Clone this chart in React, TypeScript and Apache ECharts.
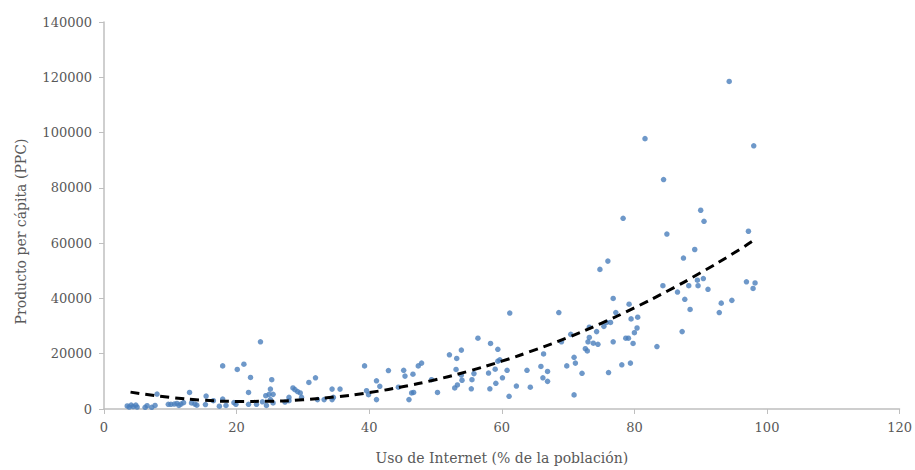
import React, { useEffect, useRef } from "react";
import * as echarts from "echarts";

// Internet use (% of population) per country
const internetUse: number[] = [
  3.5, 3.8, 4.1, 4.4, 4.8, 5.0, 6.2, 6.5, 7.2, 7.7, 8.0, 9.7, 10.1, 10.6, 11.0, 11.3, 11.6, 12.0, 12.9, 13.2,
  13.7, 14.0, 15.3, 15.4, 16.5, 17.4, 17.9, 17.9, 18.4, 19.6, 19.9, 20.1, 21.1, 21.8, 22.1, 21.8, 23.0, 23.6, 23.9, 24.4,
  24.5, 24.9, 25.1, 25.3, 25.1, 25.5, 25.5, 27.3, 27.9, 27.9, 28.5, 28.8, 29.2, 29.6, 29.8, 30.9, 31.9, 32.2, 33.2, 34.4,
  34.4, 34.6, 35.6, 39.3, 39.6, 39.9, 41.1, 41.1, 41.6, 42.9, 44.4, 45.2, 45.4, 46.0, 46.4, 46.7, 46.6, 47.4, 47.9, 49.4,
  50.3, 52.1, 53.1, 53.2, 52.9, 53.3, 53.9, 54.0, 53.9, 55.4, 55.5, 55.8, 56.4, 58.0, 58.2, 58.3, 59.0, 59.1, 59.4, 59.4,
  59.7, 60.1, 60.8, 61.1, 61.2, 62.2, 63.8, 64.3, 65.9, 66.3, 66.2, 66.9, 66.9, 68.6, 69.0, 69.8, 70.4, 70.9, 71.1, 70.9,
  72.1, 72.6, 72.9, 73.0, 73.2, 73.2, 73.8, 74.3, 74.5, 74.8, 75.4, 75.8, 76.4, 76.1, 76.0, 76.8, 76.8, 77.2, 78.1, 78.3,
  78.7, 79.1, 79.2, 79.5, 79.4, 79.8, 80.0, 80.4, 80.5, 81.6, 83.4, 84.3, 84.4, 84.9, 86.5, 87.2, 87.4, 87.6, 88.2, 88.4,
  89.1, 89.5, 89.6, 90.0, 90.4, 90.5, 91.1, 92.8, 93.1, 94.3, 94.7, 96.9, 97.2, 97.9, 98.0, 98.2,
];

// GDP per capita (PPP)
const gdpPerCapita: number[] = [
  1100, 700, 1400, 900, 1400, 700, 600, 1200, 600, 1300, 5400, 1700, 1700, 1800, 2000, 1300, 1800, 2300, 6000, 2200,
  1800, 1400, 1600, 4700, 3000, 1000, 15600, 3600, 1300, 2300, 1700, 14300, 16200, 6000, 11400, 1700, 1700, 24300, 2600, 4800,
  1300, 5300, 7200, 10600, 3400, 5300, 2200, 2500, 4200, 3000, 7600, 7000, 6300, 5800, 4200, 9600, 11300, 3400, 3400, 7200,
  3400, 4200, 7200, 15600, 6600, 5200, 10200, 3400, 8200, 13900, 7900, 14000, 11900, 3400, 5800, 6000, 12600, 15600, 16600, 10600,
  6000, 19600, 14300, 18300, 7600, 8700, 21300, 10400, 12300, 7300, 10600, 12800, 25600, 13000, 7300, 23700, 14400, 9300, 21600, 17300,
  17800, 11300, 14000, 4600, 34700, 8300, 14000, 7900, 15400, 19900, 11300, 13600, 10000, 34900, 24300, 15600, 27000, 18700, 16600, 5100,
  12900, 21800, 21000, 24300, 25900, 29600, 23800, 28000, 23400, 50500, 29900, 31300, 31300, 13200, 53500, 40000, 24300, 34900, 16000, 69000,
  25600, 25600, 37900, 32600, 16600, 23700, 27600, 29300, 33200, 97800, 22600, 44600, 83000, 63300, 42300, 28000, 54600, 39700, 44600, 36000,
  57700, 46600, 44600, 71900, 47200, 67900, 43300, 34900, 38300, 118500, 39300, 46000, 64300, 43600, 95200, 45600,
];

// Polynomial trend line
const trendX: number[] = [4, 10, 15, 20, 25, 30, 35, 40, 45, 50, 55, 60, 65, 70, 75, 80, 85, 90, 95, 98];
const trendY: number[] = [6100, 4200, 3200, 2750, 2800, 3350, 4400, 5950, 8050, 10600, 13700, 17300, 21400, 25900, 31000, 36600, 42700, 49300, 56400, 61000];

const xTicks = { min: 0, max: 120, interval: 20 };
const yTicks = { min: 0, max: 140000, interval: 20000 };

export default function App() {
  const ref = useRef<HTMLDivElement>(null);
  useEffect(() => {
    if (!ref.current) return;
    const chart = echarts.init(ref.current, null, { renderer: "svg" });
    const font = "DejaVu Serif";
    const labelColor = "#595959";
    const axisColor = "#BFBFBF";
    chart.setOption({
      animation: false,
      backgroundColor: "#ffffff",
      grid: { left: 104, right: 15, top: 22, bottom: 60 },
      xAxis: {
        type: "value",
        min: xTicks.min,
        max: xTicks.max,
        interval: xTicks.interval,
        name: "Uso de Internet (% de la población)",
        nameLocation: "middle",
        nameGap: 42,
        nameTextStyle: { fontFamily: font, fontSize: 14, color: labelColor },
        axisLine: { show: true, lineStyle: { color: axisColor, width: 1.5 } },
        axisTick: { show: true, length: 5, lineStyle: { color: axisColor } },
        splitLine: { show: false },
        axisLabel: { fontFamily: font, fontSize: 13, color: labelColor, margin: 12 },
      },
      yAxis: {
        type: "value",
        min: yTicks.min,
        max: yTicks.max,
        interval: yTicks.interval,
        name: "Producto per cápita (PPC)",
        nameLocation: "middle",
        nameGap: 76,
        nameTextStyle: { fontFamily: font, fontSize: 14, color: labelColor, padding: [0, 32, 0, 0] },
        axisLine: { show: true, lineStyle: { color: axisColor, width: 1.5 } },
        axisTick: { show: true, length: 5, lineStyle: { color: axisColor } },
        splitLine: { show: false },
        axisLabel: {
          fontFamily: font,
          fontSize: 13,
          color: labelColor,
          margin: 12,
          formatter: (v: number) => String(v),
        },
      },
      series: [
        {
          type: "scatter",
          data: internetUse.map((x, i) => [x, gdpPerCapita[i]]),
          symbol: "circle",
          symbolSize: 5.5,
          itemStyle: { color: "#4A7EBB" },
          z: 2,
        },
        {
          type: "line",
          data: trendX.map((x, i) => [x, trendY[i]]),
          smooth: true,
          showSymbol: false,
          symbol: "none",
          lineStyle: { color: "#000000", width: 3, type: [9, 6] },
          z: 3,
        },
      ],
    });
    return () => chart.dispose();
  }, []);
  return (
    <div
      ref={ref}
      style={{ position: "fixed", left: 0, top: 0, width: 915, height: 470 }}
    />
  );
}
